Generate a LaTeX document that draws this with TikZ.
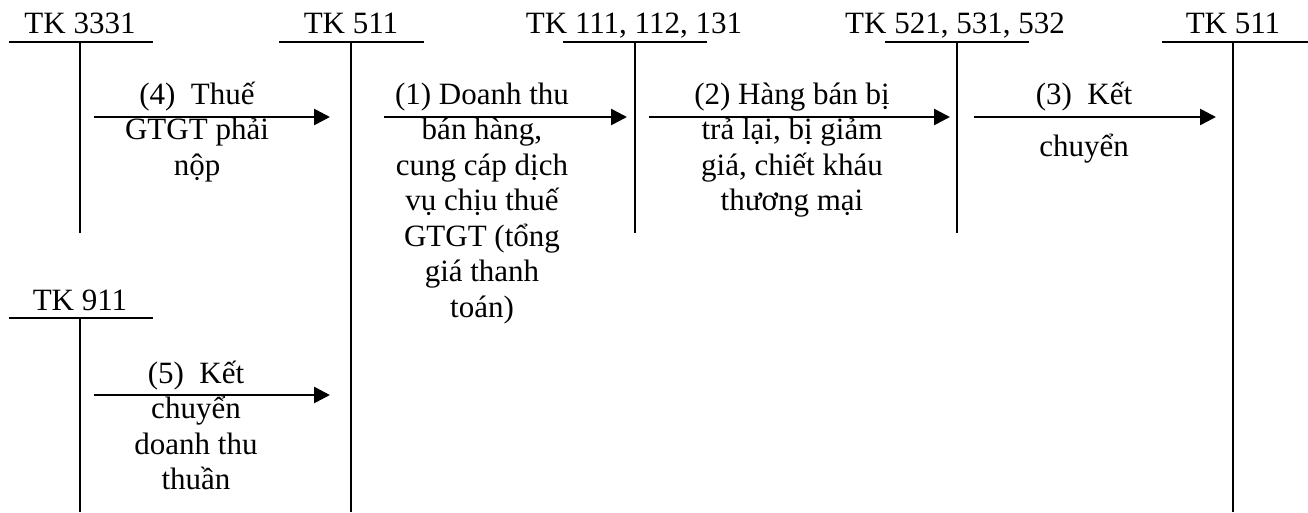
\documentclass[tikz,border=0pt]{standalone}
\usepackage{fontspec}
\setmainfont{Liberation Serif}
\usetikzlibrary{arrows.meta}
\tikzset{
  tline/.style={line width=2pt},
  flow/.style={line width=2.6pt,-{Triangle[length=16pt,width=16pt]}},
  lbl/.style={inner sep=0pt,anchor=base,font=\fontsize{31}{35.5}\selectfont},
  txt/.style={inner sep=0pt,anchor=base,font=\fontsize{31}{35.5}\selectfont}
}
\newcommand{\mlines}[1]{\begin{tabular}[t]{@{}c@{}}#1\end{tabular}}
\begin{document}
\begin{tikzpicture}[x=1pt,y=-1pt]
\useasboundingbox (0,0) rectangle (1308,512);
% T-account headers
\node[lbl] (h3331) at (80,33) {TK 3331};
\node[lbl] (h511a) at (351,33) {TK 511};
\node[lbl] (h111) at (634,33) {TK 111, 112, 131};
\node[lbl] (h521) at (955,33) {TK 521, 531, 532};
\node[lbl] (h511b) at (1233,33) {TK 511};
\node[lbl] (h911) at (80,310) {TK 911};
% T-account bars
\draw[tline] (9,42) -- (153,42);   \draw[tline] (80,42) -- (80,233);
\draw[tline] (279,42) -- (424,42); \draw[tline] (351,42) -- (351,512);
\draw[tline] (563,42) -- (707,42); \draw[tline] (635,42) -- (635,233);
\draw[tline] (885,42) -- (1029,42); \draw[tline] (957,42) -- (957,233);
\draw[tline] (1162,42) -- (1308,42); \draw[tline] (1233,42) -- (1233,512);
\draw[tline] (9,318) -- (153,318); \draw[tline] (80,318) -- (80,512);
% arrow end points
\coordinate (a4s) at (94,117);  \coordinate (a4e) at (330,117);
\coordinate (a1s) at (384,117); \coordinate (a1e) at (627,117);
\coordinate (a2s) at (649,117); \coordinate (a2e) at (950,117);
\coordinate (a3s) at (974,117); \coordinate (a3e) at (1216,117);
\coordinate (a5s) at (94,395);  \coordinate (a5e) at (330,395);
\draw[flow] (a4s) -- (a4e);
\draw[flow] (a1s) -- (a1e);
\draw[flow] (a2s) -- (a2e);
\draw[flow] (a3s) -- (a3e);
\draw[flow] (a5s) -- (a5e);
% labels
\node[txt] (t4) at (197,104) {\mlines{(4)\ \ Thuế\\GTGT phải\\nộp}};
\node[txt] (t1) at (482,104) {\mlines{(1) Doanh thu\\bán hàng,\\cung cáp dịch\\vụ chịu thuế\\GTGT (tổng\\giá thanh\\toán)}};
\node[txt] (t2) at (792,104) {\mlines{(2) Hàng bán bị\\trả lại, bị giảm\\giá, chiết kháu\\thương mại}};
\node[txt] (t3) at (1084,104) {\mlines{(3)\ \ Kết\\[16.5pt]chuyển}};
\node[txt] (t5) at (196,383) {\mlines{(5)\ \ Kết\\chuyển\\doanh thu\\thuần}};
\end{tikzpicture}
\end{document}
